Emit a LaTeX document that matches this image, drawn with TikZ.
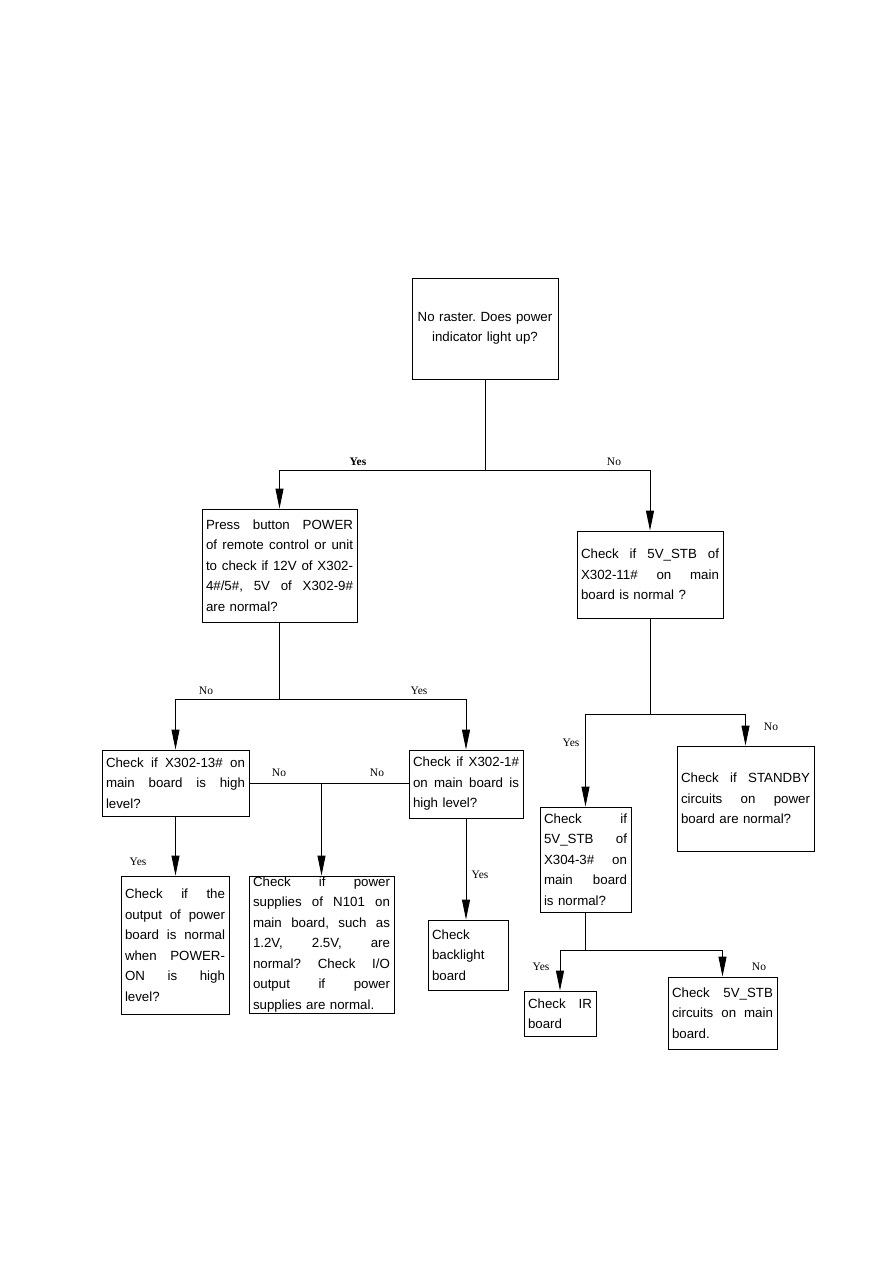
\documentclass[tikz,border=0pt]{standalone}
\usepackage{fontspec}
\setmainfont{Liberation Sans}
\newfontfamily\labelfont{Liberation Serif}
\usetikzlibrary{arrows.meta}

\newcommand{\jl}[1]{\leavevmode\hbox to \linewidth{\spaceskip=0.28em plus 1fil\relax #1}}
\frenchspacing

\begin{document}
\begin{tikzpicture}[x=1pt,y=-1pt,line width=0.9pt,
  arr/.style={-{Triangle[length=20pt,width=8pt]}},
  box/.style={draw,inner xsep=4pt,inner ysep=1pt,align=left,
    font=\fontsize{13.3}{20.5}\selectfont},
  lbl/.style={font=\labelfont\fontsize{11.5}{13}\selectfont}]
  \useasboundingbox (0,0) rectangle (893,1263);

  % question boxes
  \node[box,align=center,text width=138pt,minimum height=101pt] (top) at (485,328.5)
    {No raster. Does power\\ indicator light up?};
  \node[box,text width=147pt,minimum height=113pt] (pb) at (279.5,565.5)
    {\jl{Press button POWER}\\ \jl{of remote control or unit}\\
     \jl{to check if 12V of X302-}\\ \jl{4\#/5\#, 5V of X302-9\#}\\ are normal?};
  \node[box,text width=138pt,minimum height=87pt] (c5) at (650,574.5)
    {\jl{Check if 5V\_STB of}\\ \jl{X302-11\# on main}\\ board is normal ?};
  \node[box,text width=139pt,minimum height=66pt] (c13) at (175.5,783)
    {\jl{Check if X302-13\# on}\\ \jl{main board is high}\\ level?};
  \node[box,text width=106pt,minimum height=68pt] (c1) at (466,784)
    {\jl{Check if X302-1\#}\\ \jl{on main board is}\\ high level?};
  \node[box,text width=83pt,minimum height=105pt] (c3) at (585.5,859.5)
    {\jl{Check if}\\ \jl{5V\_STB of}\\ \jl{X304-3\# on}\\ \jl{main board}\\ is normal?};

  % end boxes
  \node[box,text width=100pt,minimum height=138pt] (out) at (175,945)
    {\jl{Check if the}\\ \jl{output of power}\\ \jl{board is normal}\\
     \jl{when POWER-}\\ \jl{ON is high}\\ level?};
  \node[box,inner ysep=0pt,text width=137pt,minimum height=137pt] (sup) at (321.5,944.5)
    {\jl{Check if power}\\ \jl{supplies of N101 on}\\ \jl{main board, such as}\\
     \jl{1.2V, 2.5V, are}\\ \jl{normal? Check I/O}\\ \jl{output if power}\\
     supplies are normal.};
  \node[box,text width=72pt,minimum height=70pt] (bl) at (468,955)
    {Check\\ backlight\\ board};
  \node[box,text width=129pt,minimum height=105pt] (sby) at (745.5,798.5)
    {\jl{Check if STANDBY}\\ \jl{circuits on power}\\ board are normal?};
  \node[box,text width=64pt,minimum height=45pt] (ir) at (560,1013.5)
    {\jl{Check IR}\\ board};
  \node[box,text width=101pt,minimum height=72pt] (c5m) at (722.5,1013)
    {\jl{Check 5V\_STB}\\ \jl{circuits on main}\\ board.};

  % connectors
  \draw (top.south) -- ++(0,91) coordinate (j1);
  \draw[arr] (j1) -| (pb.north);
  \draw[arr] (j1) -| (c5.north);
  \draw (pb.south) -- ++(0,77) coordinate (j2);
  \draw[arr] (j2) -| (c13.north);
  \draw[arr] (j2) -| (c1.north);
  \draw (c13.east) -- (c13.east -| c1.west);
  \draw[arr] (c13.east -| sup.north) -- (sup.north);
  \draw[arr] (c13.south) -- (c13.south |- out.north);
  \draw[arr] (c1.south) -- (c1.south |- bl.north);
  \draw (c5.south) -- ++(0,96) coordinate (j3);
  \draw[arr] (j3) -| (c3.north);
  \draw[arr] (j3) -| (sby.north);
  \draw (c3.south) -- ++(0,38) coordinate (j4);
  \draw[arr] (j4) -| (ir.north);
  \draw[arr] (j4) -| (c5m.north);

  % labels
  \node[lbl] (ly1) at (358,462) {\textbf{Yes}};
  \node[lbl] (ln1) at (614,462) {No};
  \node[lbl] (ln2) at (206,691) {No};
  \node[lbl] (ly2) at (419,691) {Yes};
  \node[lbl] (ln3) at (279,773) {No};
  \node[lbl] (ln4) at (377,773) {No};
  \node[lbl] (ly3) at (138,862) {Yes};
  \node[lbl] (ly4) at (480,875) {Yes};
  \node[lbl] (ly5) at (571,743) {Yes};
  \node[lbl] (ln5) at (771,727) {No};
  \node[lbl] (ly6) at (541,967) {Yes};
  \node[lbl] (ln6) at (759,967) {No};
\end{tikzpicture}
\end{document}
